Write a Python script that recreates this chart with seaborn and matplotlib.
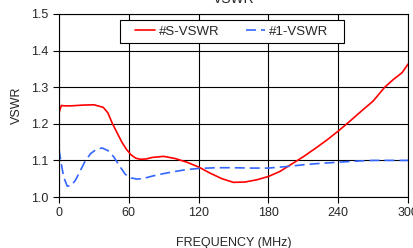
import pandas as pd
import matplotlib
matplotlib.use("Agg")
import matplotlib.pyplot as plt
from matplotlib.patches import Rectangle
import seaborn as sns


# series
s_freq = [0, 2, 5, 10, 20, 30, 38, 42, 46, 50, 54, 58, 62, 66, 70, 75, 80, 90,
          100, 110, 120, 130, 140, 150, 160, 170, 180, 190, 200, 210, 220, 230,
          240, 250, 260, 270, 280, 287, 295, 300]
s_vswr = [1.23, 1.25, 1.249, 1.249, 1.251, 1.252, 1.245, 1.23, 1.20, 1.175,
          1.15, 1.13, 1.115, 1.106, 1.103, 1.104, 1.108, 1.111,
          1.105, 1.095, 1.082, 1.065, 1.05, 1.04, 1.041, 1.047, 1.056, 1.07,
          1.09, 1.11, 1.132, 1.155, 1.18, 1.207, 1.235, 1.262, 1.30, 1.32,
          1.34, 1.363]

one_freq = [0, 2, 4, 7, 10, 14, 18, 22, 27, 32, 37, 42, 47, 52, 57, 62, 67, 72,
            80, 90, 100, 110, 120, 135, 150, 165, 180, 195, 210, 225, 240,
            255, 270, 285, 300]
one_vswr = [1.13, 1.09, 1.055, 1.03, 1.03, 1.045, 1.07, 1.095, 1.118, 1.13,
            1.134, 1.127, 1.11, 1.085, 1.062, 1.052, 1.049, 1.05, 1.057, 1.064,
            1.07, 1.075, 1.078, 1.08, 1.08, 1.079, 1.079, 1.083, 1.088, 1.092,
            1.095, 1.098, 1.1, 1.1, 1.1]

x_ticks = [0, 60, 120, 180, 240, 300]
y_ticks = [1.0, 1.1, 1.2, 1.3, 1.4, 1.5]


def build_frame():
    s = pd.DataFrame({"freq": s_freq, "vswr": s_vswr, "series": "#S-VSWR"})
    one = pd.DataFrame({"freq": one_freq, "vswr": one_vswr, "series": "#1-VSWR"})
    return pd.concat([s, one], ignore_index=True)


def plot():
    sns.set_style("white")
    plt.rcParams["font.family"] = ["Liberation Sans", "DejaVu Sans"]

    df = build_frame()

    fig = plt.figure(figsize=(4.14, 2.48), dpi=100)
    ax = fig.add_axes([59 / 414, 1 - 197 / 248, 349 / 414, 183 / 248])

    sns.lineplot(data=df, x="freq", y="vswr", hue="series", style="series",
                 palette={"#S-VSWR": "#ff0000", "#1-VSWR": "#3366ff"},
                 dashes={"#S-VSWR": "", "#1-VSWR": (6, 3)},
                 linewidth=1.2, ax=ax, sort=False)

    ax.set_xlim(0, 300)
    ax.set_ylim(1.0, 1.5)
    ax.set_xticks(x_ticks)
    ax.set_yticks(y_ticks)
    ax.set_yticklabels([f"{v:.1f}" for v in y_ticks])
    ax.grid(True, color="black", linewidth=0.8)
    for sp in ax.spines.values():
        sp.set_color("black")
        sp.set_linewidth(0.8)
    ax.tick_params(axis="both", direction="out", length=4, width=0.8,
                   color="black", labelsize=9, pad=3.5, bottom=True, left=True)

    ax.set_title("VSWR", fontsize=10, pad=8)
    ax.set_xlabel("FREQUENCY (MHz)", fontsize=9, labelpad=13)
    ax.set_ylabel("VSWR", fontsize=9, labelpad=6)

    # legend box is wider than matplotlib's padding gives, so draw it by hand
    ax.add_patch(Rectangle((0.1748, 0.8415), 0.6418, 0.1257,
                           transform=ax.transAxes, facecolor="white",
                           edgecolor="black", linewidth=0.8, zorder=4,
                           clip_on=False))
    ax.legend(loc="center", bbox_to_anchor=(0.4957, 0.9044), ncol=2,
              fontsize=9.5, frameon=False, handlelength=1.5,
              handletextpad=0.3, columnspacing=1.95, borderpad=0.0,
              borderaxespad=0.0, title=None)

    fig.savefig("out.png", dpi=100)
    plt.close(fig)


if __name__ == "__main__":
    plot()
